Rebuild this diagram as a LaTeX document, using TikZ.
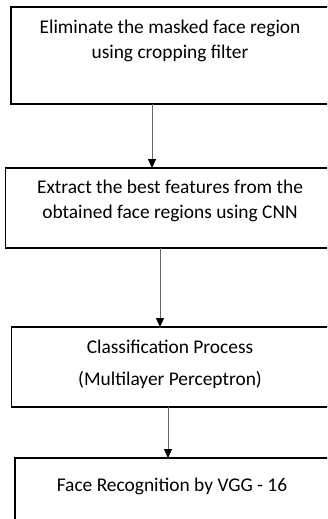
\documentclass[tikz,border=0pt]{standalone}
\usepackage{fontspec}
\setmainfont{Carlito}
\usetikzlibrary{arrows.meta, positioning}

\begin{document}
\begin{tikzpicture}[
        x=1pt, y=1pt,
        box/.style={draw, rectangle, line width=1.5pt, align=center, inner xsep=0pt, inner ysep=0pt,
            outer sep=0pt, font=\fontsize{19.4pt}{25pt}\selectfont, anchor=north west},
        arrow/.style={-{Triangle[width=8pt, length=9pt, black]}, draw=black!60, line width=1pt}
    ]
        \useasboundingbox (0,0) rectangle (327,-519);
        \clip (0,0) rectangle (327,-519);

        % text height is measured down to the last baseline
        \node[box, minimum width=318pt, text height=52pt, text depth=45pt] (elim) at (11,-7)
            {Eliminate the masked face region\\using cropping filter};
        \node[box, below=64pt of elim.south west, anchor=north west, xshift=-5.5pt,
            minimum width=329pt, text height=50pt, text depth=30pt] (feat)
            {Extract the best features from the\\obtained face regions using CNN};
        \node[box, below=79pt of feat.south west, anchor=north west, xshift=6pt,
            minimum width=317pt, text height=58pt, text depth=22pt] (classify)
            {Classification Process\\[7pt](Multilayer Perceptron)};
        \node[box, below=51pt of classify.south west, anchor=north west, xshift=3.5pt,
            minimum width=314pt, text height=33pt, text depth=60pt] (vgg)
            {Face Recognition by VGG - 16};

        \draw[arrow] ([xshift=-18pt]elim.south) -- ([xshift=-18pt]elim.south |- feat.north);
        \draw[arrow] ([xshift=-10pt]feat.south) -- ([xshift=-10pt]feat.south |- classify.north);
        \draw[arrow] ([xshift=-2pt]classify.south) -- ([xshift=-2pt]classify.south |- vgg.north);
    \end{tikzpicture}
\end{document}
